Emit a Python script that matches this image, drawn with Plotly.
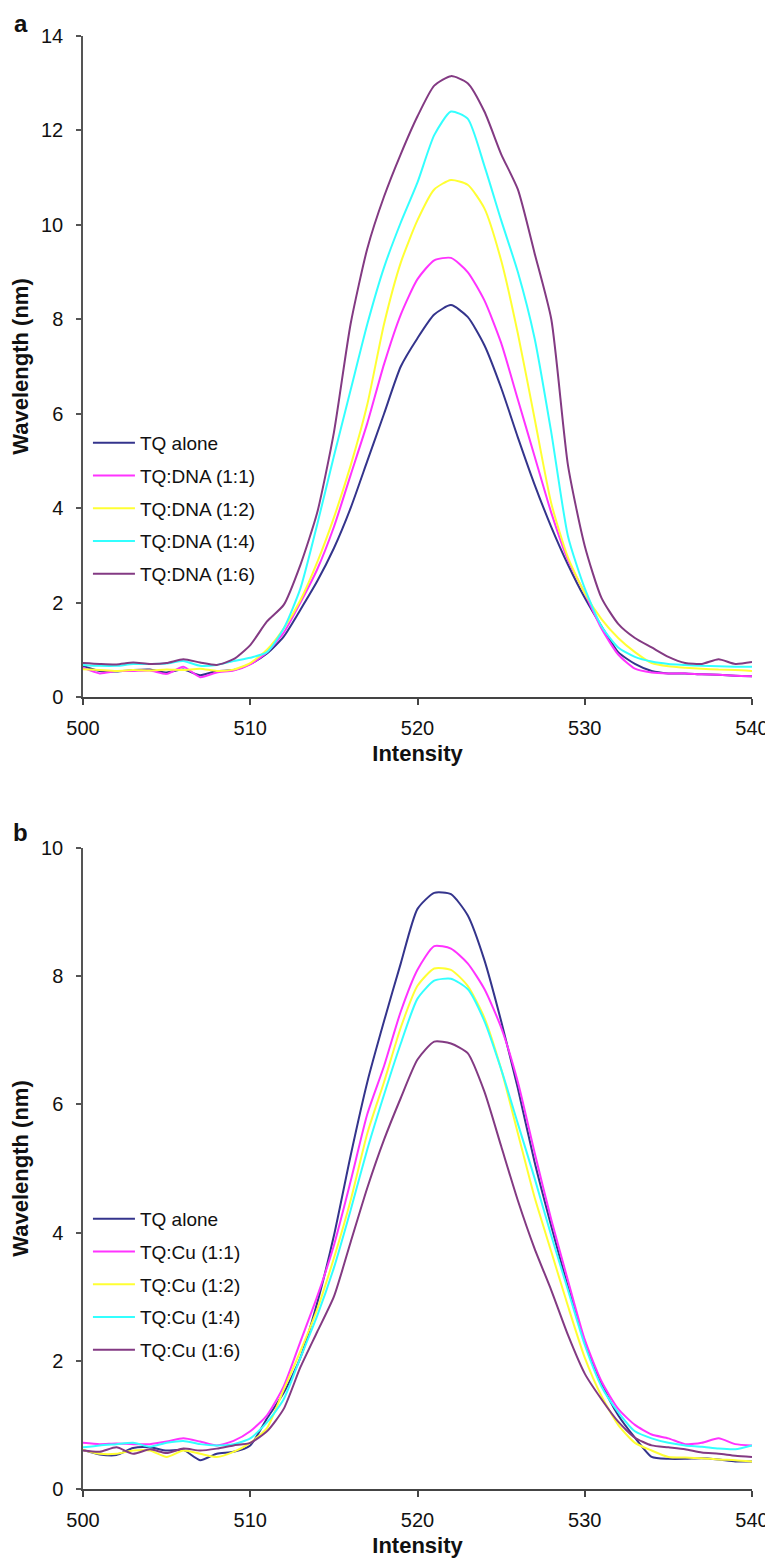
import plotly.graph_objects as go

# ---------------- data ----------------
wl = list(range(500, 541))  # x values (nm)

# Panel a: TQ with DNA
a_tq_alone = [0.66, 0.55, 0.54, 0.57, 0.58, 0.52, 0.58, 0.46, 0.55, 0.57,
              0.70, 0.92, 1.28, 1.85, 2.45, 3.15, 4.0, 5.0, 6.0, 7.0,
              7.6, 8.1, 8.3, 8.05, 7.45, 6.55, 5.5, 4.5, 3.6, 2.8,
              2.1, 1.5, 0.95, 0.7, 0.55, 0.5, 0.5, 0.48, 0.47, 0.45, 0.44]
a_dna_11 = [0.62, 0.50, 0.55, 0.55, 0.56, 0.49, 0.64, 0.42, 0.52, 0.56,
            0.69, 0.95, 1.36, 2.0, 2.7, 3.6, 4.7, 5.8, 7.05, 8.1,
            8.85, 9.25, 9.3, 9.0, 8.4, 7.5, 6.3, 5.1, 3.9, 2.9,
            2.2, 1.45, 0.9, 0.6, 0.52, 0.5, 0.5, 0.48, 0.47, 0.45, 0.44]
a_dna_12 = [0.59, 0.57, 0.55, 0.57, 0.56, 0.58, 0.57, 0.60, 0.55, 0.58,
            0.72, 1.0, 1.45, 2.05, 2.85, 3.8, 4.9, 6.2, 7.9, 9.2,
            10.1, 10.75, 10.95, 10.85, 10.35, 9.25, 7.7, 5.9, 4.1, 2.95,
            2.2, 1.65, 1.25, 0.95, 0.72, 0.65, 0.62, 0.6, 0.58, 0.57, 0.55]
a_dna_14 = [0.68, 0.66, 0.66, 0.70, 0.70, 0.71, 0.76, 0.66, 0.68, 0.76,
            0.83, 0.95, 1.45, 2.3, 3.65, 5.1, 6.5, 7.9, 9.1, 10.05,
            10.9, 11.9, 12.4, 12.25, 11.25, 10.1, 9.0, 7.6, 5.6, 3.4,
            2.3, 1.5, 1.05, 0.85, 0.75, 0.7, 0.68, 0.66, 0.65, 0.64, 0.64]
a_dna_16 = [0.72, 0.70, 0.69, 0.73, 0.70, 0.72, 0.80, 0.73, 0.68, 0.80,
            1.1, 1.6, 1.95, 2.8, 3.9, 5.6, 7.9, 9.5, 10.6, 11.5,
            12.3, 12.95, 13.15, 13.0, 12.4, 11.5, 10.75, 9.4, 8.0, 4.9,
            3.2, 2.1, 1.55, 1.25, 1.05, 0.85, 0.72, 0.7, 0.8, 0.7, 0.74]

# Panel b: TQ with Cu
b_tq_alone = [0.61, 0.54, 0.53, 0.64, 0.65, 0.60, 0.61, 0.45, 0.55, 0.58,
              0.68, 1.1, 1.5, 2.05, 2.9, 3.95, 5.2, 6.35, 7.3, 8.2,
              9.05, 9.3, 9.28, 8.95, 8.25, 7.3, 6.25, 5.1, 4.1, 3.15,
              2.3, 1.65, 1.15, 0.8, 0.5, 0.47, 0.47, 0.48, 0.46, 0.43, 0.43]
b_cu_11 = [0.72, 0.70, 0.71, 0.70, 0.70, 0.74, 0.79, 0.74, 0.68, 0.75,
           0.9, 1.15, 1.6, 2.3, 3.0, 3.8, 4.8, 5.85, 6.6, 7.45,
           8.1, 8.47, 8.43, 8.2, 7.8, 7.2, 6.35, 5.25, 4.2, 3.25,
           2.33, 1.68, 1.25, 1.0, 0.85, 0.79, 0.7, 0.72, 0.79, 0.7, 0.68]
b_cu_12 = [0.61, 0.55, 0.55, 0.60, 0.60, 0.50, 0.60, 0.55, 0.50, 0.58,
           0.72, 0.95, 1.55, 2.15, 2.8, 3.6, 4.5, 5.55, 6.35, 7.2,
           7.85, 8.12, 8.1, 7.85, 7.35, 6.55, 5.55, 4.55, 3.7, 2.85,
           2.05, 1.45, 1.0, 0.72, 0.6, 0.5, 0.49, 0.48, 0.46, 0.45, 0.43]
b_cu_14 = [0.65, 0.68, 0.70, 0.72, 0.66, 0.72, 0.75, 0.70, 0.68, 0.70,
           0.79, 1.04, 1.4, 2.05, 2.7, 3.45, 4.35, 5.3, 6.15, 6.95,
           7.65, 7.93, 7.96, 7.8, 7.3, 6.55, 5.7, 4.85, 3.95, 3.1,
           2.25, 1.6, 1.2, 0.9, 0.79, 0.72, 0.68, 0.66, 0.63, 0.62, 0.68]
b_cu_16 = [0.60, 0.58, 0.65, 0.55, 0.62, 0.56, 0.63, 0.60, 0.63, 0.68,
           0.72, 0.9, 1.25, 1.9, 2.45, 3.0, 3.85, 4.7, 5.45, 6.1,
           6.7, 6.98, 6.95, 6.8, 6.2, 5.35, 4.5, 3.75, 3.1, 2.4,
           1.8, 1.4, 1.05, 0.8, 0.68, 0.65, 0.62, 0.57, 0.55, 0.52, 0.5]

names_a = ["TQ alone", "TQ:DNA (1:1)", "TQ:DNA (1:2)", "TQ:DNA (1:4)", "TQ:DNA (1:6)"]
names_b = ["TQ alone", "TQ:Cu (1:1)", "TQ:Cu (1:2)", "TQ:Cu (1:4)", "TQ:Cu (1:6)"]
series_a = [a_tq_alone, a_dna_11, a_dna_12, a_dna_14, a_dna_16]
series_b = [b_tq_alone, b_cu_11, b_cu_12, b_cu_14, b_cu_16]
colors = ["#34348C", "#FF33FF", "#FFFF33", "#33FFFF", "#833A83"]

x_ticks = [500, 510, 520, 530, 540]
ya_ticks = [0, 2, 4, 6, 8, 10, 12, 14]
yb_ticks = [0, 2, 4, 6, 8, 10]

FONT = "Liberation Sans, Arial, sans-serif"

fig = go.Figure()
for name, ys, col in zip(names_a, series_a, colors):
    fig.add_trace(go.Scatter(x=wl, y=ys, name=name, mode="lines",
                             line=dict(color=col, width=2, shape="spline", smoothing=0.6),
                             xaxis="x", yaxis="y", legend="legend",
                             legendgroup="a" + name))
for name, ys, col in zip(names_b, series_b, colors):
    fig.add_trace(go.Scatter(x=wl, y=ys, name=name, mode="lines",
                             line=dict(color=col, width=2, shape="spline", smoothing=0.6),
                             xaxis="x2", yaxis="y2", legend="legend2",
                             legendgroup="b" + name))

L, R, T, B = 75, 22, 28, 79
W, H = 773, 1560
PH = H - T - B


def py(yp):
    return (H - B - yp) / PH


def px(xp):
    return (xp - L) / (W - L - R)


xaxis_common = dict(range=[500, 540], tickvals=x_ticks, ticks="outside", ticklen=6,
                    tickwidth=1.5, tickcolor="#444", showline=True, linecolor="#444",
                    linewidth=2, showgrid=False, zeroline=False,
                    tickfont=dict(family=FONT, size=20, color="#111"),
                    ticklabelstandoff=6)
yaxis_common = dict(ticks="outside", ticklen=5, tickwidth=1.5, tickcolor="#555",
                    showline=True, linecolor="#555", linewidth=1.5, showgrid=False,
                    zeroline=False, tickfont=dict(family=FONT, size=20, color="#111"),
                    ticklabelstandoff=9)
xtitle_font = dict(family=FONT, size=22, color="#111")
ytitle_font = dict(family=FONT, size=22, color="#111")
legend_common = dict(xanchor="left", yanchor="top",
                     font=dict(family=FONT, size=19, color="#111"),
                     bgcolor="rgba(0,0,0,0)", tracegroupgap=5, traceorder="grouped",
                     itemwidth=42)

fig.update_layout(
    width=W, height=H,
    margin=dict(l=L, r=R, t=T, b=B),
    paper_bgcolor="white", plot_bgcolor="white",
    xaxis=dict(domain=[0, 1], anchor="y",
               title=dict(text="<b>Intensity</b>", font=xtitle_font, standoff=8),
               **xaxis_common),
    yaxis=dict(domain=[py(689), py(28)], anchor="x", range=[0, 14], tickvals=ya_ticks,
               title=dict(text="<b>Wavelength (nm)</b>", font=ytitle_font, standoff=6),
               **yaxis_common),
    xaxis2=dict(domain=[0, 1], anchor="y2",
                title=dict(text="<b>Intensity</b>", font=xtitle_font, standoff=8),
                **xaxis_common),
    yaxis2=dict(domain=[0, py(840)], anchor="x2", range=[0, 10], tickvals=yb_ticks,
                title=dict(text="<b>Wavelength (nm)</b>", font=ytitle_font, standoff=6),
                **yaxis_common),
    legend=dict(x=px(80), y=py(416), **legend_common),
    legend2=dict(x=px(80), y=py(1192), **legend_common),
    showlegend=True,
    annotations=[
        dict(text="<b>a</b>", x=px(12), y=py(16), xref="paper", yref="paper",
             xanchor="center", yanchor="middle",
             showarrow=False, font=dict(family=FONT, size=24, color="#111")),
        dict(text="<b>b</b>", x=px(12), y=py(824), xref="paper", yref="paper",
             xanchor="center", yanchor="middle",
             showarrow=False, font=dict(family=FONT, size=24, color="#111")),
    ],
)

fig.write_html("out.html")
